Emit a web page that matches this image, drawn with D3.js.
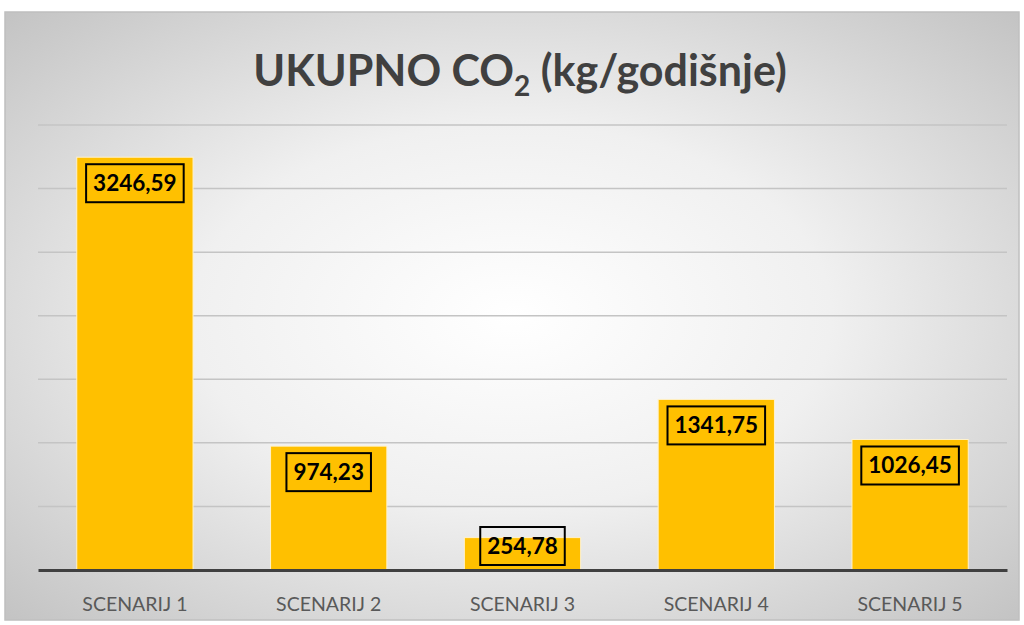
<!DOCTYPE html>
<html><head><meta charset="utf-8">
<script src="https://cdn.jsdelivr.net/npm/d3@7"></script>
<style>body{margin:0;background:#fff;}svg{display:block;}</style>
</head><body>
<svg id="c" width="1024" height="625"></svg>
<script>
const categories = ["SCENARIJ 1","SCENARIJ 2","SCENARIJ 3","SCENARIJ 4","SCENARIJ 5"];
const values = [3246.59, 974.23, 254.78, 1341.75, 1026.45];
const labels = ["3246,59","974,23","254,78","1341,75","1026,45"];
const gridTicks = [0,500,1000,1500,2000,2500,3000,3500];

const svg = d3.select("#c");
const defs = svg.append("defs");
const rg = defs.append("radialGradient").attr("id","bg").attr("cx","50%").attr("cy","50%").attr("r","70%");
rg.append("stop").attr("offset","0%").attr("stop-color","#ffffff");
rg.append("stop").attr("offset","45%").attr("stop-color","#f0f0f0");
rg.append("stop").attr("offset","100%").attr("stop-color","#c4c4c4");

svg.append("rect").attr("x",5).attr("y",12).attr("width",1014).attr("height",608)
  .attr("fill","url(#bg)").attr("stroke","#bfbfbf").attr("stroke-width",1.5);

const m = {l:38, r:1007, t:125, b:570};
const x = d3.scaleBand().domain(categories).range([m.l,m.r]).paddingInner(0.4).paddingOuter(0.2);
const y = d3.scaleLinear().domain([0,3500]).range([m.b,m.t]);

// gridlines
svg.append("g").selectAll("line").data(gridTicks.filter(d=>d>0)).join("line")
  .attr("x1",m.l).attr("x2",m.r).attr("y1",d=>y(d)).attr("y2",d=>y(d))
  .attr("stroke","#c4c4c4").attr("stroke-width",1.5);

// bars
svg.append("g").selectAll("rect").data(values).join("rect")
  .attr("x",(d,i)=>x(categories[i])).attr("width",x.bandwidth())
  .attr("y",d=>y(d)).attr("height",d=>m.b-y(d))
  .attr("fill","#ffc000").attr("stroke","#fff2cc").attr("stroke-width",1);

// axis
const xAxis = d3.axisBottom(x).tickSize(0).tickPadding(27);
const ax = svg.append("g").attr("transform",`translate(0,${m.b})`).call(xAxis);
ax.select(".domain").attr("stroke","#404040").attr("stroke-width",3);
ax.selectAll("text").attr("font-family","Lato, 'Open Sans', sans-serif").attr("font-size",19.5)
  .attr("fill","#595959");

// labels
const lg = svg.append("g");
values.forEach((v,i)=>{
  const cx = x(categories[i]) + x.bandwidth()/2;
  const t = lg.append("text").attr("x",cx).attr("text-anchor","middle")
    .attr("font-family","Lato, 'Open Sans', sans-serif").attr("font-weight","bold")
    .attr("font-size",22.5).attr("fill","#000").text(labels[i]);
  let top = y(v) + 7;
  const h = 38;
  if (top + h > m.b - 5) top = m.b - 5 - h;
  t.attr("y", top + h/2 + 8);
  const bb = t.node().getBBox();
  const w = bb.width + 14;
  lg.insert("rect","text").attr("x",cx - w/2).attr("y",top).attr("width",w).attr("height",h)
    .attr("fill","none").attr("stroke","#000").attr("stroke-width",2);
});

// title
const title = svg.append("text").attr("x",520).attr("y",86).attr("text-anchor","middle")
  .attr("font-family","Lato, 'Open Sans', sans-serif").attr("font-weight","bold").attr("font-size",43)
  .attr("fill","#404040");
title.append("tspan").text("UKUPNO CO");
title.append("tspan").attr("font-size",28).attr("dy",10).text("2");
title.append("tspan").attr("dy",-10).text(" (kg/godišnje)");
</script>
</body></html>
